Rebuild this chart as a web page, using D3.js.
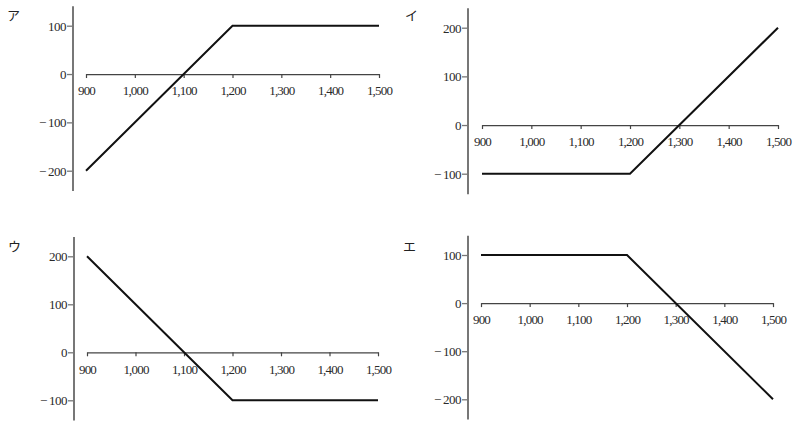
<!DOCTYPE html>
<html>
<head>
<meta charset="utf-8">
<script src="https://cdn.jsdelivr.net/npm/d3@7"></script>
<style>
  body { margin: 0; background: #fff; }
  svg { display: block; }
  .tick text { font-family: "Liberation Serif", "DejaVu Serif", serif; font-size: 13px; }
  .panel-label { font-family: "Noto Sans CJK JP", sans-serif; font-size: 13px; fill: #222; }
</style>
</head>
<body>
<svg width="800" height="421"></svg>
<script>
// shared x values (price) for every panel
var prices = [900, 1200, 1500];
var xTicks = [900, 1000, 1100, 1200, 1300, 1400, 1500];

// profit values per panel
var valuesA = [-200, 100, 100];
var valuesI = [-100, -100, 200];
var valuesU = [200, -100, -100];
var valuesE = [100, 100, -200];

var panelLabels = ['ア', 'イ', 'ウ', 'エ'];
var yTicksA = [-200, -100, 0, 100];
var yTicksI = [-100, 0, 100, 200];
var yTicksU = [-100, 0, 100, 200];
var yTicksE = [-200, -100, 0, 100];

// layout of each panel (pixels)
var panels = [
    {label: panelLabels[0], values: valuesA, yTicks: yTicksA, axisX: 73,  x0: 86,  x1: 379, yTop: 25.7,  yBot: 170.7, lx: 7,   ly: 20},
    {label: panelLabels[1], values: valuesI, yTicks: yTicksI, axisX: 468, x0: 482, x1: 778, yTop: 27.7,  yBot: 173.7, lx: 405, ly: 20},
    {label: panelLabels[2], values: valuesU, yTicks: yTicksU, axisX: 74,  x0: 87,  x1: 378, yTop: 256.3, yBot: 400.3, lx: 8,   ly: 251},
    {label: panelLabels[3], values: valuesE, yTicks: yTicksE, axisX: 468, x0: 481, x1: 773, yTop: 255,   yBot: 399.3, lx: 403, ly: 251}
];

var svg = d3.select('svg');

function fmtY(v) {
    if (v < 0) return '\u2212\u2009' + Math.abs(v);
    return String(v);
}

panels.forEach(function(p) {
    var g = svg.append('g');

    var xScale = d3.scaleLinear().domain([900, 1500]).range([p.x0, p.x1]);
    var yMin = d3.min(p.yTicks), yMax = d3.max(p.yTicks);
    var yScale = d3.scaleLinear().domain([yMin, yMax]).range([p.yBot, p.yTop]);

    // y axis (gray, extends beyond the ticks)
    var yAxisG = g.append('g')
        .attr('transform', 'translate(' + p.axisX + ',0)')
        .call(d3.axisLeft(yScale)
            .tickValues(p.yTicks)
            .tickFormat(fmtY)
            .tickSize(6)
            .tickPadding(1)
            .tickSizeOuter(0));
    yAxisG.select('.domain').remove();
    yAxisG.selectAll('.tick line').attr('stroke', '#777').attr('stroke-width', 1.3);
    yAxisG.selectAll('.tick text').attr('dy', '0.35em').attr('fill', '#2a2a2a')
        .style('letter-spacing', '-0.5px');
    yAxisG.append('line')
        .attr('x1', 0).attr('x2', 0)
        .attr('y1', yScale(yMax + 40))
        .attr('y2', Math.min(421, yScale(yMin - 42)))
        .attr('stroke', '#777')
        .attr('stroke-width', 2);

    // x axis on the zero line
    var xAxisG = g.append('g')
        .attr('transform', 'translate(0,' + yScale(0) + ')')
        .call(d3.axisBottom(xScale)
            .tickValues(xTicks)
            .tickFormat(d3.format(','))
            .tickSize(4)
            .tickPadding(8)
            .tickSizeOuter(0));
    xAxisG.select('.domain').attr('stroke', '#444').attr('stroke-width', 1.2);
    xAxisG.selectAll('.tick line').attr('stroke', '#444').attr('stroke-width', 1.2);
    xAxisG.selectAll('.tick text').attr('fill', '#2a2a2a').style('letter-spacing', '-0.8px');

    // profit line
    var line = d3.line()
        .x(function(d, i) { return xScale(prices[i]); })
        .y(function(d) { return yScale(d); });
    g.append('path')
        .datum(p.values)
        .attr('d', line)
        .attr('fill', 'none')
        .attr('stroke', '#111')
        .attr('stroke-width', 2);

    g.append('text')
        .attr('class', 'panel-label')
        .attr('x', p.lx)
        .attr('y', p.ly)
        .text(p.label);
});
</script>
</body>
</html>
